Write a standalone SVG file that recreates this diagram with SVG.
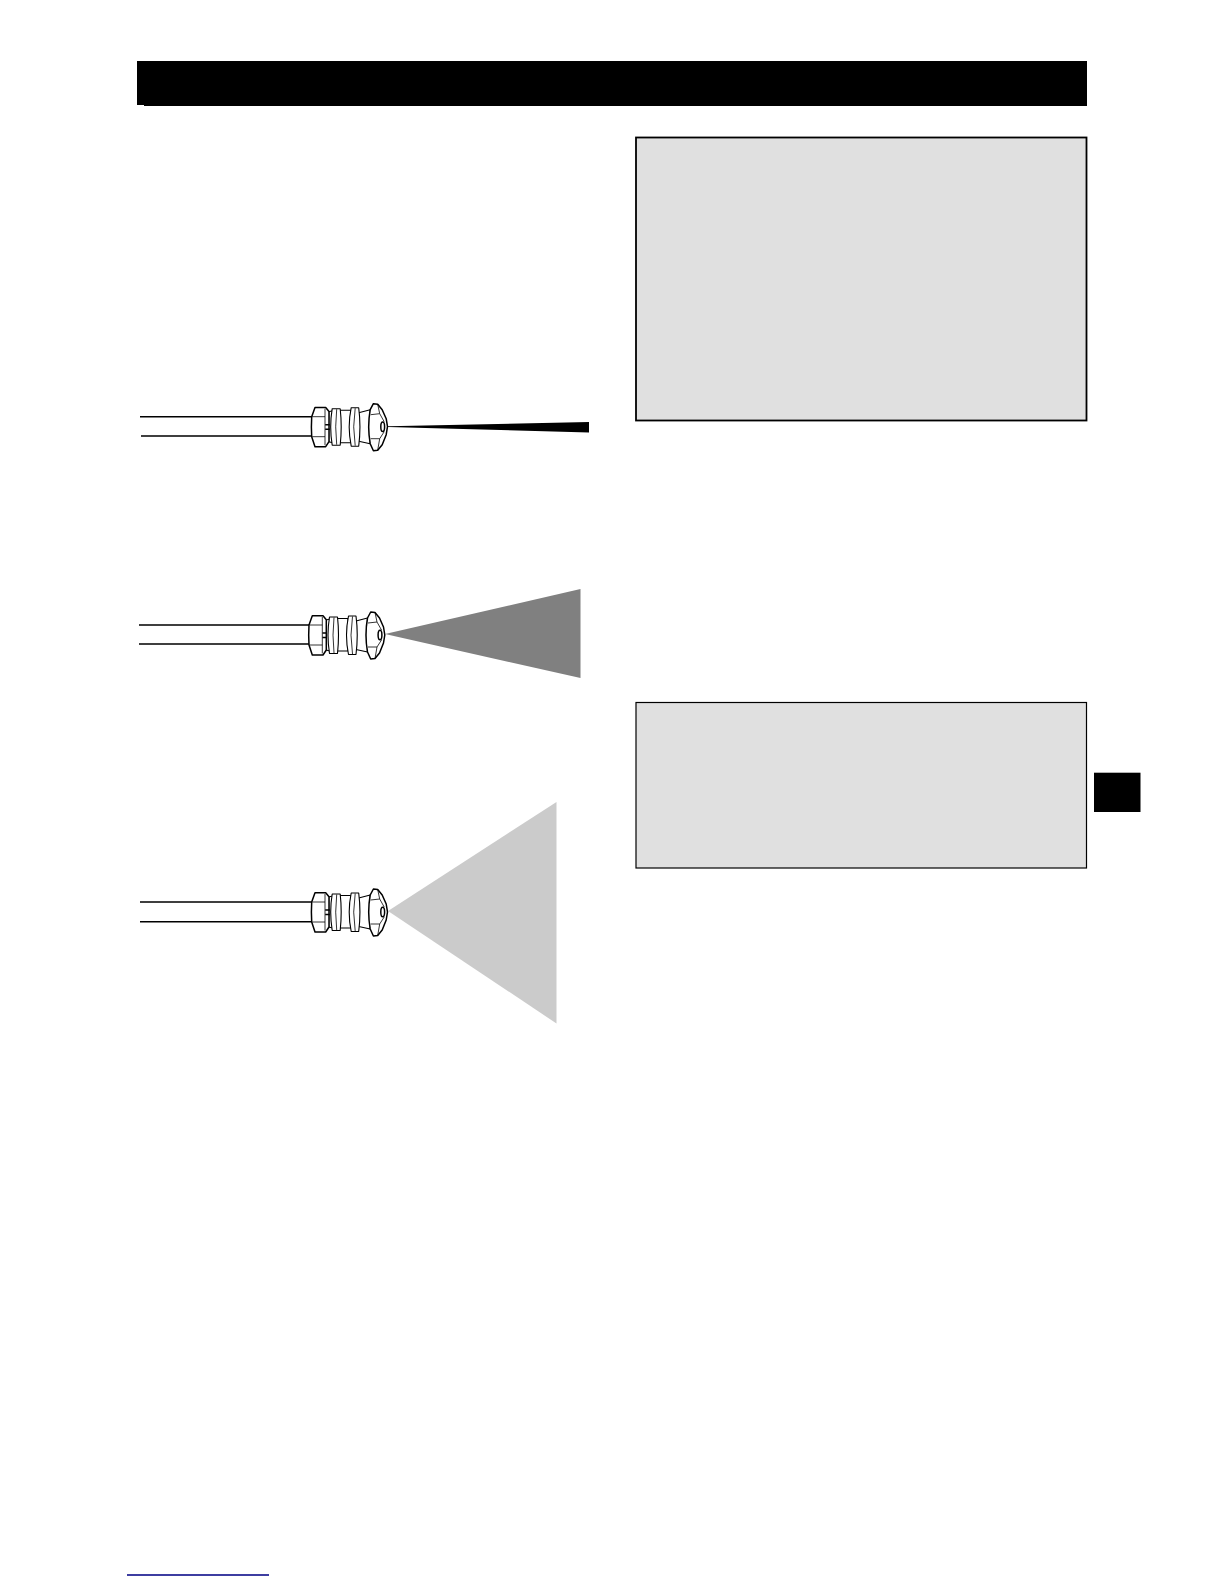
<svg xmlns="http://www.w3.org/2000/svg" width="1224" height="1584" viewBox="0 0 1224 1584">
<style>
.box{fill:#e0e0e0;stroke:#000}
.hose{stroke:#000;stroke-width:1.6;fill:none}
.n{fill:#fff;stroke:#000;stroke-width:1.1;stroke-linejoin:round}
.t{fill:none;stroke:#000;stroke-width:.8}
.h{stroke-width:1.5}
</style>
<defs>
<g id="nozzle">
<path class="n" d="M47,-14 L58.5,-17 L58.5,17 L47,14.5 Z"/>
<path class="n" d="M27,-16.5 L39,-16.5 L39,16 L27,16 Z"/>
<path class="n" d="M17,-15 L21,-16 L21,16 L17,15 Z"/>
<path class="n" d="M20.5,-18 L28.5,-18 Q30.5,0 28.5,18.5 L20.5,18.5 Q17.5,0 20.5,-18 Z"/>
<path class="t" d="M25,-17.5 Q23,0 25,18"/>
<path class="n" d="M39.5,-19 L47,-19 Q49.5,0 47,19.5 L39.5,19.5 Q35.5,0 39.5,-19 Z"/>
<path class="t" d="M43.5,-18.5 Q40.5,0 43.5,19"/>
<path class="n h" d="M0,-10 L3.3,-19.3 L14,-19.3 L17.3,-15.3 L17.3,15 L14,20 L3.3,20 L0,10 Q-0.6,0 0,-10 Z"/>
<path class="t" d="M13.3,-18 L13.3,18.5 M0.5,-10 L13.3,-10 M0.5,10 L13.3,10"/>
<path class="t h" d="M13.5,-2 L18,-2 M13.5,2.5 L18,2.5"/>
<path class="n h" d="M58.5,-17 L61.7,-23 L66,-22.5 L70.5,-17 L74.5,-8 L75.8,0 L74.5,8 L70.5,18 L66,23.5 L61.7,24 L58.5,17 Q55.5,0 58.5,-17 Z"/>
<path class="t" d="M59,-12 L68,-13 L72.5,-5 M59,12 L68,12 L72.5,5 M66,-22.5 L68,-13 M66,23.5 L68,12"/>
<ellipse cx="71" cy="0" rx="1.9" ry="4.8" fill="#fff" stroke="#000" stroke-width="1.5"/>
</g>
</defs>
<rect width="1224" height="1584" fill="#fff"/>
<g id="title-bar"><rect x="137" y="61" width="950" height="45" fill="#000"/><rect x="137" y="105" width="7" height="1" fill="#fff"/></g>
<g id="box-top"><rect class="box" x="636" y="137.5" width="450.5" height="283" stroke-width="1.8"/></g>
<g id="box-bottom"><rect class="box" x="636" y="702.5" width="450.5" height="165.5" stroke-width="1.2"/></g>
<g id="side-tab"><rect x="1094" y="772.7" width="46.5" height="39.3" fill="#000"/></g>
<g id="nozzle-narrow">
<path d="M388,426.2 L589,422 L589,432.5 L388,426.9 Z" fill="#000"/>
<path class="hose" d="M140,416.7 H312 M141,436 H312"/>
<use href="#nozzle" x="311.7" y="426.7"/>
</g>
<g id="nozzle-medium">
<path d="M385,634 L580.5,589 L580.5,678 Z" fill="#808080"/>
<path class="hose" d="M139,625 H310 M139,644 H310"/>
<use href="#nozzle" x="309" y="635"/>
</g>
<g id="nozzle-wide">
<path d="M388,911 L556.5,802 L556.5,1023.5 Z" fill="#cbcbcb"/>
<path class="hose" d="M140,902 H312 M140,921.7 H312"/>
<use href="#nozzle" x="311.7" y="912"/>
</g>
<g id="footer-rule"><rect x="127" y="1574.2" width="142" height="1.6" fill="#10108a"/></g>
</svg>
